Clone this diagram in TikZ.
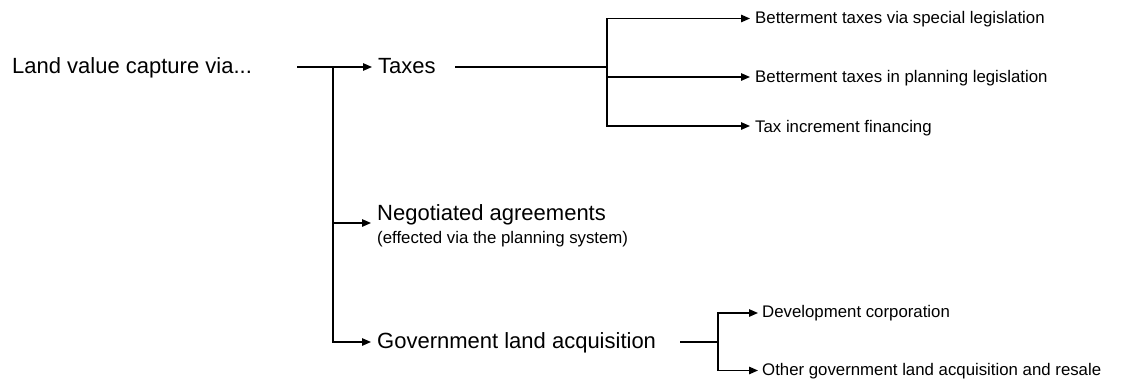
\documentclass[tikz,border=0pt]{standalone}
\usepackage{fontspec}
\setmainfont{Liberation Sans}
\usetikzlibrary{arrows.meta}
\begin{document}
\begin{tikzpicture}[x=1pt,y=-1pt,
  main/.style={font=\fontsize{22}{26}\selectfont, inner sep=0pt, anchor=base west},
  small/.style={font=\fontsize{16.8}{20}\selectfont, inner sep=0pt, anchor=base west},
  line/.style={line width=1.3pt, black},
  arr/.style={line, -{Triangle[length=9pt,width=7.5pt]}}]
\useasboundingbox (0,0) rectangle (1123,380);
% text nodes
\node[main] (root) at (12,73) {Land value capture via...};
\node[main] (tax) at (378,73) {Taxes};
\node[main] (neg) at (377,220) {Negotiated agreements};
\node[small] (negsub) at (377,243) {(effected via the planning system)};
\node[main] (gov) at (377,348) {Government land acquisition};
\node[small] (b1) at (755,23.5) {Betterment taxes via special legislation};
\node[small] (b2) at (755,82.5) {Betterment taxes in planning legislation};
\node[small] (b3) at (755,132) {Tax increment financing};
\node[small] (d1) at (762,317) {Development corporation};
\node[small] (d2) at (762,375.5) {Other government land acquisition and resale};
% junction coordinates
\coordinate (r0) at (297,67);
\coordinate (j0) at (333,67);
\coordinate (t0) at (455,67);
\coordinate (tj) at (607,67);
\coordinate (g0) at (680,342);
\coordinate (gj) at (718,342);
% root branches
\draw[arr] (r0) -- ([xshift=-6pt,yshift=6pt]tax.base west);
\draw[arr] (j0) |- ([xshift=-6pt,yshift=-3pt]neg.base west);
\draw[arr] (j0) |- ([xshift=-6pt,yshift=6pt]gov.base west);
% taxes branches
\draw[line] (t0) -- (tj);
\draw[arr] (tj) |- ([xshift=-5pt,yshift=5pt]b1.base west);
\draw[arr] (tj) |- ([xshift=-5pt,yshift=5.5pt]b2.base west);
\draw[arr] (tj) |- ([xshift=-5pt,yshift=6pt]b3.base west);
% government branches
\draw[line] (g0) -- (gj);
\draw[arr] (gj) |- ([xshift=-4pt,yshift=4pt]d1.base west);
\draw[arr] (gj) |- ([xshift=-4pt,yshift=5pt]d2.base west);
\end{tikzpicture}
\end{document}
